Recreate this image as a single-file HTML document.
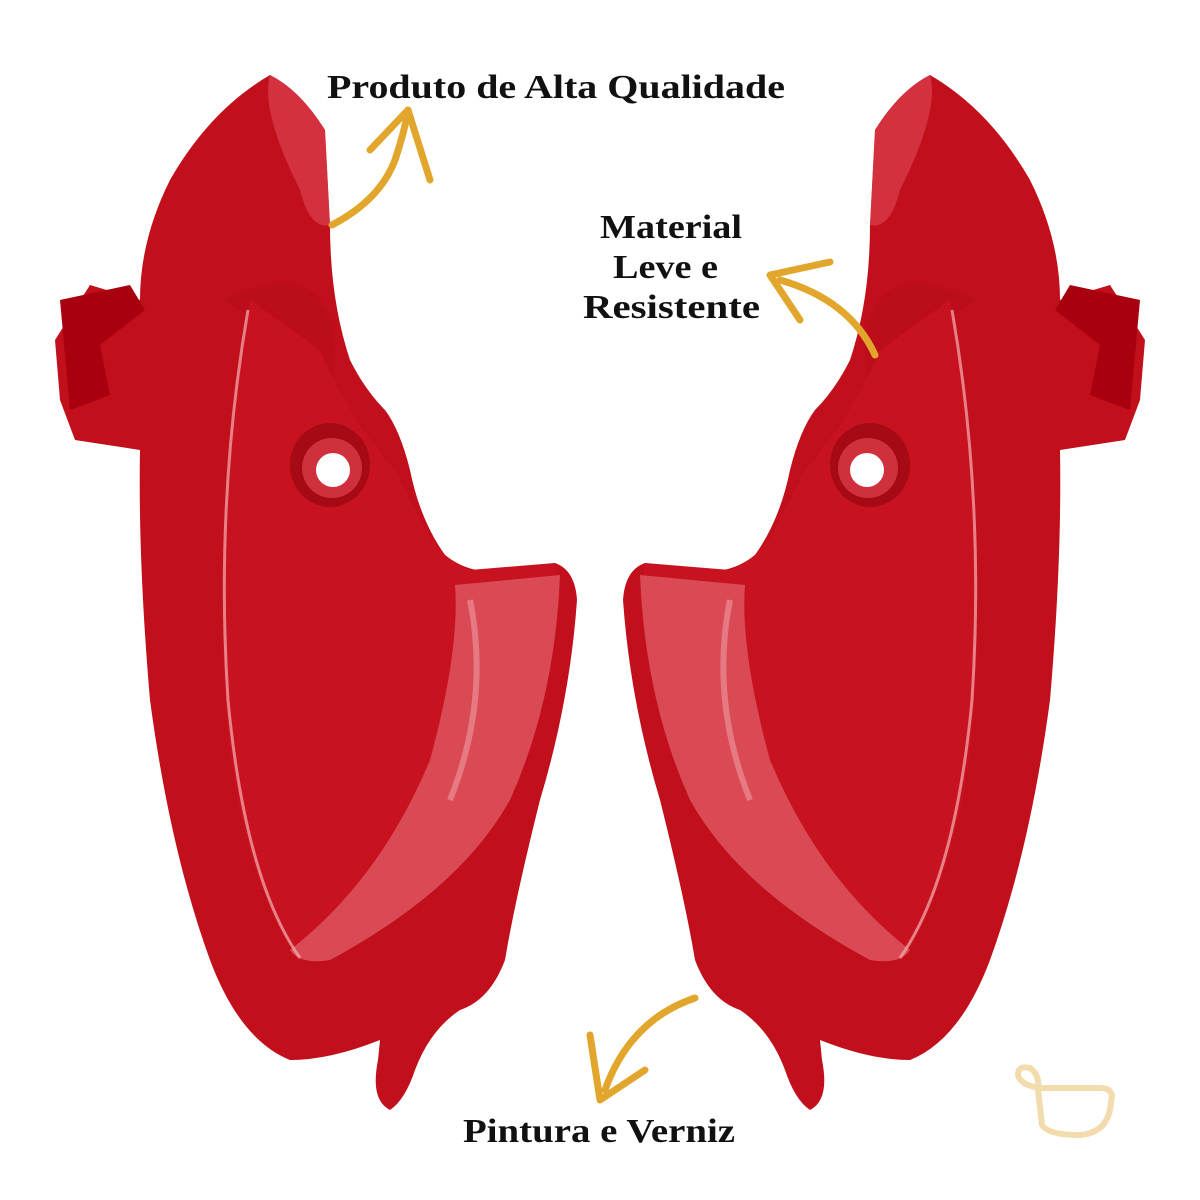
<!DOCTYPE html>
<html><head><meta charset="utf-8"><style>
html,body{margin:0;padding:0;background:#fff;}
svg{display:block}
text{font-family:"Liberation Serif",serif;font-weight:bold;fill:#111;}
</style></head><body>
<svg width="1200" height="1200" viewBox="0 0 1200 1200" xmlns="http://www.w3.org/2000/svg">
<defs>
<g id="part">
 <path d="M270,75 Q300,90 325,130 L330,225 Q330,300 350,360 Q365,390 385,410 Q400,430 410,470 Q420,520 445,555 Q470,575 500,570 L555,563 Q575,570 577,600 Q570,700 540,800 Q515,900 505,960 Q490,1000 460,1010 Q430,1030 415,1070 Q405,1100 390,1110 Q370,1100 378,1060 L380,1040 Q330,1060 290,1060 Q240,1040 210,960 Q170,850 150,700 Q138,560 140,450 L75,440 L60,400 L55,340 L90,285 L140,300 Q140,240 170,180 Q210,110 270,75 Z" fill="#c20f1c"/>
 <path d="M225,300 Q330,250 335,350 L330,420 Q300,400 270,330 Z" fill="#b30c18" opacity="0.5"/>
 <path d="M270,75 Q300,90 325,130 L330,225 Q310,230 300,190 Q260,110 270,75Z" fill="#d8404c" opacity="0.7"/>
 <path d="M250,300 Q215,500 225,700 Q240,880 300,960 Q330,960 420,880 Q500,800 560,600 L555,563 L470,570 Q440,560 420,520 L395,470 Q350,420 320,350 Z" fill="#c9121f"/>
 <path d="M455,585 L560,575 Q555,700 510,800 Q460,890 330,960 Q300,965 290,950 Q380,880 430,760 Q460,650 455,585Z" fill="#d94a55"/>
 <path d="M470,600 Q490,700 450,800" stroke="#f09aa0" stroke-width="6" fill="none" opacity="0.6"/>
 <path d="M248,310 Q215,500 228,700 Q245,880 300,958" stroke="#f4b0b4" stroke-width="3" fill="none" opacity="0.7"/>
 <ellipse cx="330" cy="465" rx="40" ry="42" fill="#a50a15"/>
 <ellipse cx="332" cy="468" rx="30" ry="30" fill="#d0303c"/>
 <circle cx="333" cy="470" r="17" fill="#fff"/>
 <path d="M60,300 L130,285 L145,310 L100,345 L110,395 L70,410 Z" fill="#a8000f"/>
</g>
</defs>
<use href="#part"/>
<use href="#part" transform="translate(1200,0) scale(-1,1)"/>
<text x="327" y="98" font-size="34" textLength="458" lengthAdjust="spacingAndGlyphs">Produto de Alta Qualidade</text>
<text x="600" y="238" font-size="34" textLength="142" lengthAdjust="spacingAndGlyphs">Material</text>
<text x="613" y="278" font-size="34" textLength="105" lengthAdjust="spacingAndGlyphs">Leve e</text>
<text x="583" y="318" font-size="34" textLength="177" lengthAdjust="spacingAndGlyphs">Resistente</text>
<text x="463" y="1142" font-size="34" textLength="272" lengthAdjust="spacingAndGlyphs">Pintura e Verniz</text>
<g stroke="#e3a62c" stroke-width="7" fill="none" stroke-linecap="round" stroke-linejoin="round">
 <path d="M332,225 Q380,200 395,160 Q405,130 408,110"/>
 <path d="M370,150 L408,110 L430,180"/>
 <path d="M875,355 Q850,300 780,280"/>
 <path d="M830,262 L770,275 L800,320"/>
 <path d="M695,998 Q630,1020 605,1090"/>
 <path d="M590,1035 L600,1100 L645,1070"/>
</g>
<path d="M1040,1088 Q1020,1085 1018,1075 Q1018,1065 1030,1068 Q1040,1075 1038,1090 L1042,1125 Q1048,1135 1080,1135 Q1105,1133 1110,1110 L1112,1095 Q1110,1088 1100,1088 Z" stroke="#f2dcae" stroke-width="6" fill="none"/>
</svg>
</body></html>
